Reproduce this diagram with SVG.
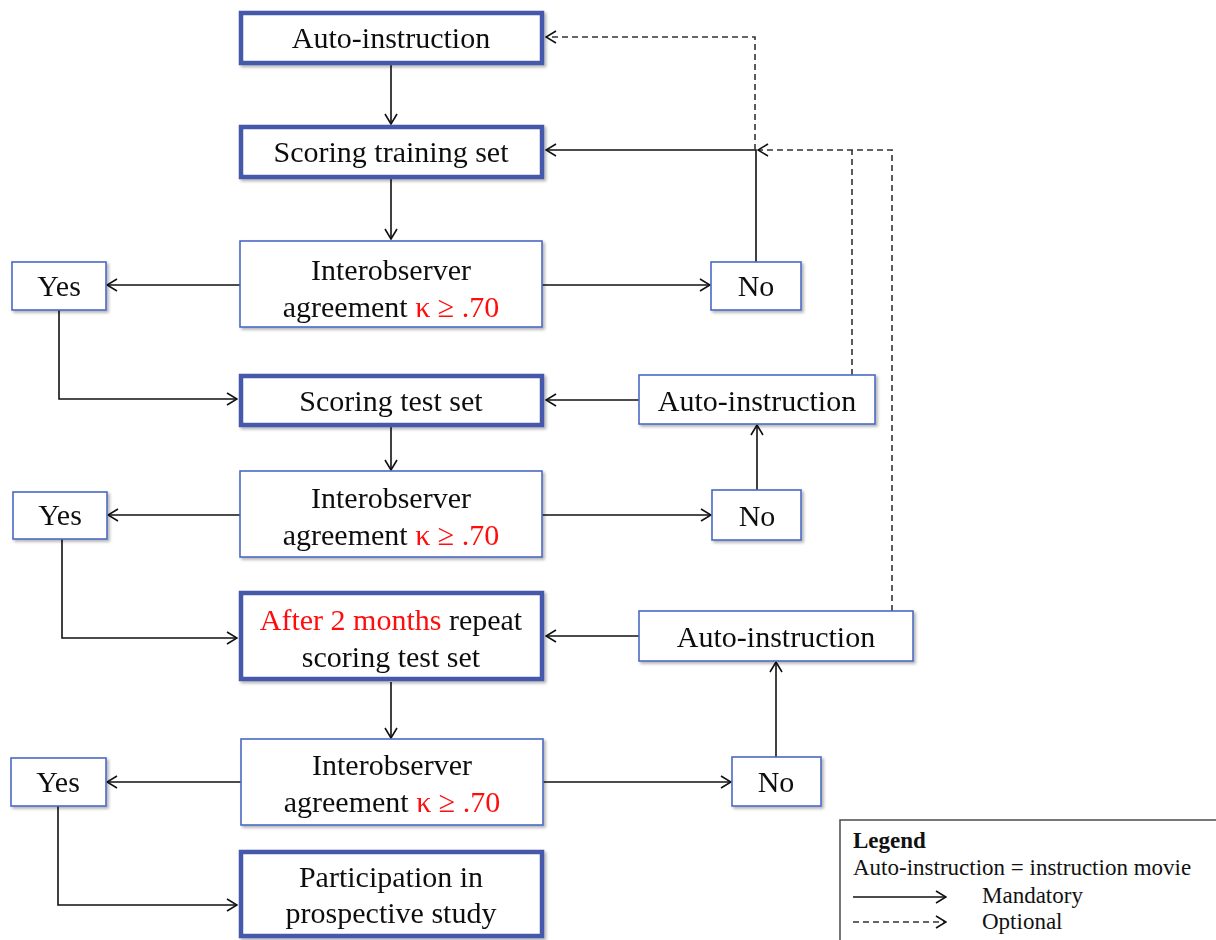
<svg xmlns="http://www.w3.org/2000/svg" width="1216" height="940" viewBox="0 0 1216 940">
<defs>
<filter id="sh" x="-10%" y="-10%" width="130%" height="140%">
<feDropShadow dx="2" dy="2" stdDeviation="1.5" flood-color="#000" flood-opacity="0.3"/>
</filter>
<marker id="ah" viewBox="0 0 12 14" refX="11" refY="7" markerWidth="12" markerHeight="14" markerUnits="userSpaceOnUse" orient="auto">
<path d="M1,1 L11,7 L1,13" fill="none" stroke="#111" stroke-width="1.6"/>
</marker>
<style>
.thick{fill:#fff;stroke:#4459aa;stroke-width:4.5}
.thin{fill:#fff;stroke:#4a69c4;stroke-width:1.6}
.t{font-family:"Liberation Serif","Times New Roman",serif;font-size:30px;fill:#111;text-anchor:middle}
.r{fill:#ff1010}
.c{fill:none;stroke:#111;stroke-width:1.6}
.d{fill:none;stroke:#333;stroke-width:1.6;stroke-dasharray:6,4}
.lg{font-family:"Liberation Serif","Times New Roman",serif;font-size:23px;fill:#111}
</style>
</defs>
<rect width="1216" height="940" fill="#fff"/>
<g id="connectors">
<line class="c" x1="391" y1="65" x2="391" y2="124" marker-end="url(#ah)"/>
<line class="c" x1="391" y1="179" x2="391" y2="239" marker-end="url(#ah)"/>
<line class="c" x1="240" y1="285" x2="107" y2="285" marker-end="url(#ah)"/>
<line class="c" x1="542" y1="285" x2="710" y2="285" marker-end="url(#ah)"/>
<polyline class="c" points="756,262 756,150 546,150" marker-end="url(#ah)"/>
<polyline class="d" points="755,150 755,37 546,37" marker-end="url(#ah)"/>
<polyline class="d" points="852,375 852,150"/>
<polyline class="d" points="892,611 892,150 758,150" marker-end="url(#ah)"/>
<polyline class="c" points="59,310 59,399 237,399" marker-end="url(#ah)"/>
<line class="c" x1="639" y1="400" x2="546" y2="400" marker-end="url(#ah)"/>
<line class="c" x1="391" y1="427" x2="391" y2="470" marker-end="url(#ah)"/>
<line class="c" x1="240" y1="515" x2="108" y2="515" marker-end="url(#ah)"/>
<line class="c" x1="542" y1="515" x2="711" y2="515" marker-end="url(#ah)"/>
<line class="c" x1="757" y1="490" x2="757" y2="425" marker-end="url(#ah)"/>
<polyline class="c" points="62,539 62,638 237,638" marker-end="url(#ah)"/>
<line class="c" x1="639" y1="636" x2="546" y2="636" marker-end="url(#ah)"/>
<line class="c" x1="391" y1="682" x2="391" y2="738" marker-end="url(#ah)"/>
<line class="c" x1="241" y1="782" x2="107" y2="782" marker-end="url(#ah)"/>
<line class="c" x1="543" y1="782" x2="731" y2="782" marker-end="url(#ah)"/>
<line class="c" x1="776" y1="757" x2="776" y2="662" marker-end="url(#ah)"/>
<polyline class="c" points="58,806 58,905 237,905" marker-end="url(#ah)"/>
</g>
<g id="n-auto1" filter="url(#sh)">
<rect class="thick" x="241" y="13" width="301" height="50"/>
<text class="t" x="391" y="48">Auto-instruction</text>
</g>
<g id="n-train" filter="url(#sh)">
<rect class="thick" x="241" y="127" width="301" height="50"/>
<text class="t" x="391" y="162">Scoring training set</text>
</g>
<g id="n-agree1" filter="url(#sh)">
<rect class="thin" x="240" y="241" width="302" height="86"/>
<text class="t" x="391" y="280">Interobserver</text>
<text class="t" x="391" y="317">agreement <tspan class="r">κ ≥ .70</tspan></text>
</g>
<g id="n-yes1" filter="url(#sh)">
<rect class="thin" x="12" y="262" width="94" height="48"/>
<text class="t" x="59" y="296">Yes</text>
</g>
<g id="n-no1" filter="url(#sh)">
<rect class="thin" x="711" y="262" width="90" height="48"/>
<text class="t" x="756" y="296">No</text>
</g>
<g id="n-test" filter="url(#sh)">
<rect class="thick" x="241" y="376" width="301" height="49"/>
<text class="t" x="391" y="411">Scoring test set</text>
</g>
<g id="n-auto2" filter="url(#sh)">
<rect class="thin" x="639" y="375" width="236" height="49"/>
<text class="t" x="757" y="411">Auto-instruction</text>
</g>
<g id="n-agree2" filter="url(#sh)">
<rect class="thin" x="240" y="471" width="302" height="86"/>
<text class="t" x="391" y="508">Interobserver</text>
<text class="t" x="391" y="545">agreement <tspan class="r">κ ≥ .70</tspan></text>
</g>
<g id="n-yes2" filter="url(#sh)">
<rect class="thin" x="13" y="492" width="94" height="47"/>
<text class="t" x="60" y="525">Yes</text>
</g>
<g id="n-no2" filter="url(#sh)">
<rect class="thin" x="712" y="490" width="89" height="50"/>
<text class="t" x="757" y="526">No</text>
</g>
<g id="n-repeat" filter="url(#sh)">
<rect class="thick" x="241" y="593" width="301" height="86"/>
<text class="t" x="391" y="630"><tspan class="r">After 2 months</tspan> repeat</text>
<text class="t" x="391" y="667">scoring test set</text>
</g>
<g id="n-auto3" filter="url(#sh)">
<rect class="thin" x="639" y="611" width="274" height="50"/>
<text class="t" x="776" y="647">Auto-instruction</text>
</g>
<g id="n-agree3" filter="url(#sh)">
<rect class="thin" x="241" y="739" width="302" height="86"/>
<text class="t" x="392" y="775">Interobserver</text>
<text class="t" x="392" y="812">agreement <tspan class="r">κ ≥ .70</tspan></text>
</g>
<g id="n-yes3" filter="url(#sh)">
<rect class="thin" x="11" y="758" width="95" height="48"/>
<text class="t" x="58" y="792">Yes</text>
</g>
<g id="n-no3" filter="url(#sh)">
<rect class="thin" x="732" y="757" width="89" height="49"/>
<text class="t" x="776" y="792">No</text>
</g>
<g id="n-part" filter="url(#sh)">
<rect class="thick" x="241" y="852" width="301" height="84"/>
<text class="t" x="391" y="887">Participation in</text>
<text class="t" x="391" y="923">prospective study</text>
</g>
<g id="legend">
<rect x="840" y="820" width="390" height="130" fill="#fff" stroke="#555" stroke-width="1.6"/>
<text class="lg" x="853" y="848" font-weight="bold">Legend</text>
<text class="lg" x="853" y="875">Auto-instruction = instruction movie</text>
<line class="c" x1="853" y1="897" x2="946" y2="897" marker-end="url(#ah)"/>
<text class="lg" x="982" y="903">Mandatory</text>
<line class="d" x1="853" y1="922" x2="946" y2="922" marker-end="url(#ah)"/>
<text class="lg" x="982" y="929">Optional</text>
</g>
</svg>
